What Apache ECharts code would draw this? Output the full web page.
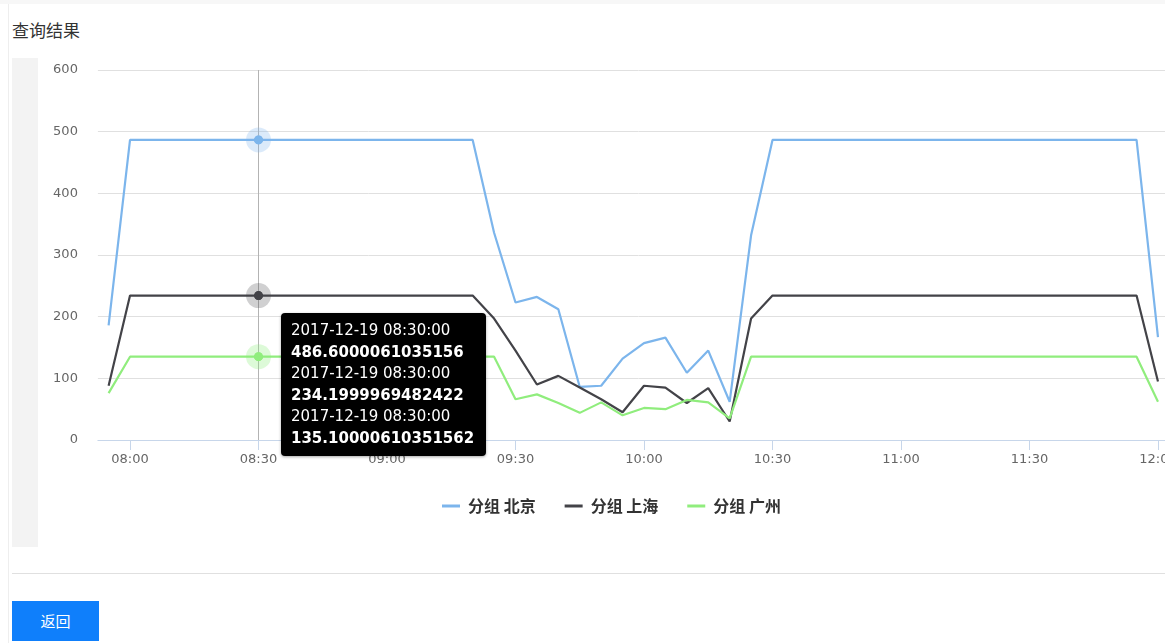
<!DOCTYPE html>
<html>
<head>
<meta charset="utf-8">
<title>查询结果</title>
<script src="https://cdn.jsdelivr.net/npm/echarts@6/dist/echarts.min.js"></script>
<style>
  html, body { margin: 0; padding: 0; width: 1165px; height: 643px; overflow: hidden; background: #fff;
    font-family: "Noto Sans CJK SC", "Noto Sans", sans-serif; }
  .topband { position: absolute; left: 0; top: 0; width: 1165px; height: 4px; background: #f7f7f7; }
  .panel { position: absolute; left: 8px; top: 4px; width: 1200px; height: 700px; border-left: 1px solid #eeeeee; }
  .title { position: absolute; left: 12px; top: 17px; font-size: 17px; color: #333; line-height: 26px; }
  .side { position: absolute; left: 12px; top: 58px; width: 26px; height: 489px; background: #f3f3f3; }
  #chart { position: absolute; left: 40px; top: 55px; width: 1160px; height: 490px; }
  .rule { position: absolute; left: 12px; top: 573px; width: 1200px; height: 1px; background: #e0e0e0; }
  .btn { position: absolute; left: 12px; top: 601px; width: 87px; height: 40px; background: #0f7ffb; color: #fff;
    font-size: 15px; line-height: 40px; text-align: center; }
</style>
</head>
<body>
<div class="topband"></div>
<div class="panel"></div>
<div class="title">查询结果</div>
<div class="side"></div>
<div id="chart"></div>
<div class="rule"></div>
<div class="btn">返回</div>

<script>
// Sampling day and 5-minute timestamps
const day = '2017-12-19';
const times = [
  '07:55', '08:00', '08:05', '08:10', '08:15', '08:20', '08:25', '08:30', '08:35', '08:40',
  '08:45', '08:50', '08:55', '09:00', '09:05', '09:10', '09:15', '09:20', '09:25', '09:30',
  '09:35', '09:40', '09:45', '09:50', '09:55', '10:00', '10:05', '10:10', '10:15', '10:20',
  '10:25', '10:30', '10:35', '10:40', '10:45', '10:50', '10:55', '11:00', '11:05', '11:10',
  '11:15', '11:20', '11:25', '11:30', '11:35', '11:40', '11:45', '11:50', '11:55', '12:00'
];

// Group values
const beijing = [
  186, 486.6000061035156, 486.6000061035156, 486.6000061035156, 486.6000061035156,
  486.6000061035156, 486.6000061035156, 486.6000061035156, 486.6000061035156, 486.6000061035156,
  486.6000061035156, 486.6000061035156, 486.6000061035156, 486.6000061035156, 486.6000061035156,
  486.6000061035156, 486.6000061035156, 486.6000061035156, 336, 223,
  232, 212, 86, 88, 132, 157, 166, 109, 145, 62,
  332, 486.6000061035156, 486.6000061035156, 486.6000061035156, 486.6000061035156,
  486.6000061035156, 486.6000061035156, 486.6000061035156, 486.6000061035156, 486.6000061035156,
  486.6000061035156, 486.6000061035156, 486.6000061035156, 486.6000061035156, 486.6000061035156,
  486.6000061035156, 486.6000061035156, 486.6000061035156, 486.6000061035156, 167
];
const shanghai = [
  88, 234.1999969482422, 234.1999969482422, 234.1999969482422, 234.1999969482422,
  234.1999969482422, 234.1999969482422, 234.1999969482422, 234.1999969482422, 234.1999969482422,
  234.1999969482422, 234.1999969482422, 234.1999969482422, 234.1999969482422, 234.1999969482422,
  234.1999969482422, 234.1999969482422, 234.1999969482422, 197, 145,
  90, 104, 85, 66, 45, 88, 85, 60, 84, 30,
  197, 234.1999969482422, 234.1999969482422, 234.1999969482422, 234.1999969482422,
  234.1999969482422, 234.1999969482422, 234.1999969482422, 234.1999969482422, 234.1999969482422,
  234.1999969482422, 234.1999969482422, 234.1999969482422, 234.1999969482422, 234.1999969482422,
  234.1999969482422, 234.1999969482422, 234.1999969482422, 234.1999969482422, 95
];
const guangzhou = [
  76, 135.10000610351562, 135.10000610351562, 135.10000610351562, 135.10000610351562,
  135.10000610351562, 135.10000610351562, 135.10000610351562, 135.10000610351562, 135.10000610351562,
  135.10000610351562, 135.10000610351562, 135.10000610351562, 135.10000610351562, 135.10000610351562,
  135.10000610351562, 135.10000610351562, 135.10000610351562, 135.10000610351562, 66,
  74, 60, 44, 61, 40, 52, 50, 65, 61, 35,
  135.10000610351562, 135.10000610351562, 135.10000610351562, 135.10000610351562, 135.10000610351562,
  135.10000610351562, 135.10000610351562, 135.10000610351562, 135.10000610351562, 135.10000610351562,
  135.10000610351562, 135.10000610351562, 135.10000610351562, 135.10000610351562, 135.10000610351562,
  135.10000610351562, 135.10000610351562, 135.10000610351562, 135.10000610351562, 62
];

const seriesNames = ['分组 北京', '分组 上海', '分组 广州'];
const tickLabels = ['08:00', '08:30', '09:00', '09:30', '10:00', '10:30', '11:00', '11:30', '12:00'];
const yTicks = [0, 100, 200, 300, 400, 500, 600];
const focusTime = '08:30';

// helpers: "HH:mm" <-> minutes of day
function toMin(t) { const p = t.split(':'); return (+p[0]) * 60 + (+p[1]); }
function toHHmm(m) {
  const h = Math.floor(m / 60), mm = Math.round(m % 60);
  return String(h).padStart(2, '0') + ':' + String(mm).padStart(2, '0');
}

const colors = ['#7cb5ec', '#434348', '#90ed7d'];
const haloColors = ['rgba(124,181,236,0.28)', 'rgba(67,67,72,0.25)', 'rgba(144,237,125,0.3)'];
const allValues = [beijing, shanghai, guangzhou];
const focusIdx = times.indexOf(focusTime);

const chart = echarts.init(document.getElementById('chart'), null, { renderer: 'canvas' });

const series = allValues.map(function (vals, s) {
  return {
    name: seriesNames[s],
    type: 'line',
    data: times.map(function (t, i) { return [toMin(t), vals[i]]; }),
    showSymbol: false,
    symbol: 'circle',
    symbolSize: 8,
    lineStyle: { width: 2.2, color: colors[s] },
    itemStyle: { color: colors[s] },
    emphasis: { disabled: true },
    markPoint: {
      silent: true,
      z: 60,
      symbol: 'circle',
      label: { show: false },
      data: [
        { coord: [toMin(focusTime), vals[focusIdx]], symbolSize: 25, itemStyle: { color: haloColors[s] } },
        { coord: [toMin(focusTime), vals[focusIdx]], symbolSize: 9, itemStyle: { color: colors[s] } }
      ]
    }
  };
});

chart.setOption({
  animation: false,
  grid: { left: 57.9, top: 15, width: 1081.5, height: 370, containLabel: false },
  legend: {
    data: seriesNames,
    left: 397, top: 438,
    icon: 'rect', itemWidth: 18, itemHeight: 3, itemGap: 29,
    selectedMode: false,
    textStyle: { fontSize: 16, fontWeight: 'bold', color: '#333', fontFamily: 'Noto Sans CJK SC', padding: [0, 0, 0, 3] }
  },
  tooltip: {
    trigger: 'axis',
    triggerOn: 'none',
    alwaysShowContent: true,
    transitionDuration: 0,
    backgroundColor: '#000',
    borderColor: '#000',
    borderWidth: 0,
    borderRadius: 4,
    padding: [7, 12, 7, 10],
    textStyle: { color: '#fff', fontSize: 15, fontFamily: 'DejaVu Sans', lineHeight: 21.5 },
    extraCssText: 'box-shadow:0 1px 3px rgba(0,0,0,0.35);line-height:21.5px;',
    axisPointer: { type: 'line', animation: false, z: 50, lineStyle: { color: '#b3b3b3', width: 1, type: 'solid' } },
    position: function () { return [241, 258]; },
    formatter: function (params) {
      return params.map(function (p) {
        return day + ' ' + times[p.dataIndex] + ':00<br/><b>' + p.value[1] + '</b>';
      }).join('<br/>');
    }
  },
  xAxis: {
    type: 'value',
    min: 472.5,
    max: 725,
    splitLine: { show: false },
    axisLine: { show: true, lineStyle: { color: '#c7d6ea', width: 1 } },
    axisTick: {
      show: true, length: 10,
      customValues: tickLabels.map(toMin),
      lineStyle: { color: '#c7d6ea' }
    },
    axisLabel: {
      customValues: tickLabels.map(toMin),
      formatter: function (v) { return toHHmm(v); },
      margin: 13,
      color: '#666',
      fontSize: 13,
      fontFamily: 'DejaVu Sans'
    }
  },
  yAxis: {
    type: 'value',
    min: yTicks[0],
    max: yTicks[yTicks.length - 1],
    interval: 100,
    axisLine: { show: false },
    axisTick: { show: false },
    splitLine: { lineStyle: { color: '#e0e0e0', width: 1 } },
    axisLabel: { margin: 20, color: '#666', fontSize: 13, fontFamily: 'DejaVu Sans' }
  },
  series: series
});

// open the tooltip on the 08:30 sample
const pt = chart.convertToPixel({ xAxisIndex: 0, yAxisIndex: 0 }, [toMin(focusTime), 300]);
chart.dispatchAction({ type: 'showTip', x: pt[0], y: pt[1] });
</script>
</body>
</html>
